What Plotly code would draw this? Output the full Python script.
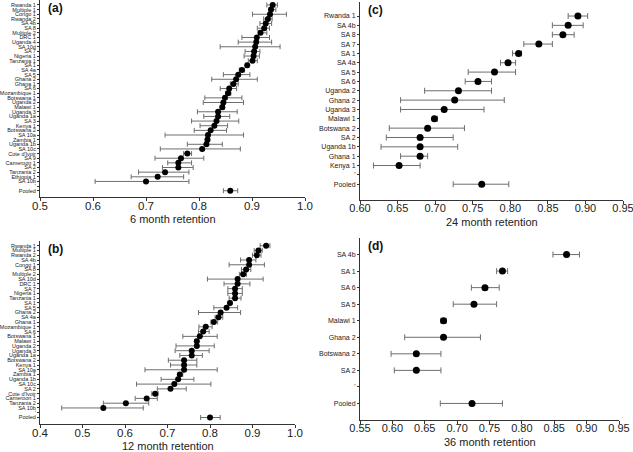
import plotly.graph_objects as go

# ---------------- data ----------------
labels_6 = ["Rwanda 1", "Multiple 1", "Congo 1", "Rwanda 2", "SA 4b", "SA 8", "Multiple 2", "DRC 1",
            "Uganda 4", "SA 10d", "SA 7", "Nigeria 1", "Tanzania 1", "SA 1", "SA 4a", "SA 5", "Ghana 2",
            "Ghana 1", "SA 6", "Mozambique 1", "Botswana 1", "Uganda 2", "Malawi 1", "Uganda 3",
            "Uganda 1a", "SA 3", "Kenya 1", "Botswana 2", "SA 10a", "Zambia 1", "Uganda 1b", "SA 10c",
            "Cote d'Ivoir", "SA 9", "Cameroon 1", "SA 2", "Tanzania 2", "Ethiopia 1", "SA 10b"]
est_6 = [0.939, 0.936, 0.934, 0.930, 0.926, 0.923, 0.916, 0.909, 0.908, 0.906, 0.904, 0.903, 0.901,
         0.891, 0.881, 0.874, 0.870, 0.865, 0.857, 0.855, 0.849, 0.846, 0.844, 0.836, 0.836, 0.833,
         0.829, 0.822, 0.817, 0.816, 0.814, 0.806, 0.778, 0.766, 0.761, 0.761, 0.736, 0.722, 0.700]
lo_6 = [0.928, 0.932, 0.901, 0.922, 0.915, 0.910, 0.912, 0.881, 0.874, 0.840, 0.887, 0.885, 0.893,
        0.888, 0.876, 0.846, 0.824, 0.859, 0.840, 0.850, 0.811, 0.808, 0.840, 0.797, 0.809, 0.786,
        0.802, 0.791, 0.736, 0.812, 0.778, 0.727, 0.771, 0.717, 0.741, 0.731, 0.686, 0.672, 0.604]
hi_6 = [0.948, 0.945, 0.965, 0.938, 0.937, 0.933, 0.928, 0.933, 0.937, 0.953, 0.915, 0.914, 0.910,
        0.894, 0.886, 0.896, 0.910, 0.874, 0.871, 0.860, 0.881, 0.884, 0.848, 0.872, 0.858, 0.875,
        0.854, 0.852, 0.884, 0.820, 0.844, 0.878, 0.786, 0.809, 0.786, 0.789, 0.781, 0.771, 0.781]
pooled_6 = [0.859, 0.846, 0.873]

labels_12 = ["Rwanda 1", "Multiple 1", "Rwanda 2", "SA 4b", "Congo 1", "SA 8", "Multiple 2", "SA 10d",
             "DRC 1", "SA 7", "Nigeria 1", "Tanzania 1", "SA 1", "SA 5", "Ghana 2", "SA 4a", "Ghana 1",
             "Mozambique 1", "SA 6", "Botswana 1", "Malawi 1", "Uganda 2", "Uganda 3", "Uganda 1a",
             "Botswana 2", "Kenya 1", "SA 10a", "Zambia 1", "Uganda 1b", "SA 10c", "SA 2",
             "Cote d'Ivoir", "Cameroon 1", "Tanzania 2", "SA 10b"]
est_12 = [0.932, 0.914, 0.910, 0.892, 0.892, 0.885, 0.878, 0.865, 0.865, 0.859, 0.859, 0.859, 0.847,
          0.839, 0.825, 0.820, 0.809, 0.790, 0.784, 0.776, 0.769, 0.769, 0.757, 0.757, 0.739, 0.739,
          0.739, 0.729, 0.725, 0.716, 0.707, 0.671, 0.651, 0.602, 0.549]
lo_12 = [0.918, 0.904, 0.900, 0.872, 0.845, 0.874, 0.869, 0.794, 0.833, 0.842, 0.842, 0.845, 0.843,
         0.809, 0.773, 0.812, 0.802, 0.774, 0.773, 0.736, 0.765, 0.720, 0.718, 0.729, 0.702, 0.707,
         0.647, 0.725, 0.685, 0.627, 0.676, 0.663, 0.624, 0.549, 0.451]
hi_12 = [0.941, 0.923, 0.920, 0.908, 0.928, 0.896, 0.886, 0.925, 0.894, 0.876, 0.876, 0.873, 0.851,
         0.865, 0.872, 0.830, 0.818, 0.805, 0.798, 0.817, 0.773, 0.810, 0.798, 0.782, 0.769, 0.769,
         0.817, 0.736, 0.762, 0.802, 0.744, 0.678, 0.676, 0.656, 0.643]
pooled_12 = [0.800, 0.778, 0.824]

labels_24 = ["Rwanda 1", "SA 4b", "SA 8", "SA 7", "SA 1", "SA 4a", "SA 5", "SA 6", "Uganda 2",
             "Ghana 2", "Uganda 3", "Malawi 1", "Botswana 2", "SA 2", "Uganda 1b", "Ghana 1", "Kenya 1"]
est_24 = [0.890, 0.877, 0.870, 0.838, 0.811, 0.797, 0.779, 0.757, 0.731, 0.726, 0.712, 0.699,
          0.690, 0.680, 0.680, 0.680, 0.652]
lo_24 = [0.877, 0.856, 0.856, 0.818, 0.803, 0.787, 0.744, 0.740, 0.686, 0.654, 0.654, 0.697,
         0.639, 0.635, 0.628, 0.654, 0.618]
hi_24 = [0.903, 0.897, 0.885, 0.856, 0.815, 0.807, 0.807, 0.775, 0.775, 0.792, 0.765, 0.703,
         0.739, 0.724, 0.730, 0.690, 0.680]
pooled_24 = [0.762, 0.724, 0.798]

labels_36 = ["SA 4b", "SA 1", "SA 6", "SA 5", "Malawi 1", "Ghana 2", "Botswana 2", "SA 2"]
est_36 = [0.869, 0.770, 0.743, 0.726, 0.679, 0.679, 0.637, 0.637]
lo_36 = [0.848, 0.761, 0.722, 0.694, 0.675, 0.619, 0.598, 0.603]
hi_36 = [0.889, 0.778, 0.765, 0.761, 0.683, 0.736, 0.675, 0.675]
pooled_36 = [0.723, 0.674, 0.770]

x_titles = ["6 month retention", "12 month retention", "24 month retention", "36 month retention"]
panel_tags = ["(a)", "(b)", "(c)", "(d)"]

# ---------------- layout geometry ----------------
W, H = 633, 452
FONT = "Liberation Sans, Arial, sans-serif"

panels = [
    dict(lab=labels_6, est=est_6, lo=lo_6, hi=hi_6, pooled=pooled_6,
         px=(40, 305), py=(0, 197), xr=[0.5, 1.0], dt=0.1, fmt=".1f",
         ypad=(1.07, 1.35), yfont=5.5, xfont=11.5, msize=6, cap=2.5),
    dict(lab=labels_12, est=est_12, lo=lo_12, hi=hi_12, pooled=pooled_12,
         px=(40, 295), py=(241, 424), xr=[0.4, 1.0], dt=0.1, fmt=".1f",
         ypad=(0.98, 1.36), yfont=5.5, xfont=11.5, msize=6, cap=2.5),
    dict(lab=labels_24, est=est_24, lo=lo_24, hi=hi_24, pooled=pooled_24,
         px=(360, 623), py=(2, 200), xr=[0.60, 0.95], dt=0.05, fmt=".2f",
         ypad=(1.5, 1.69), yfont=7, xfont=11, msize=7, cap=3),
    dict(lab=labels_36, est=est_36, lo=lo_36, hi=hi_36, pooled=pooled_36,
         px=(360, 619), py=(238, 420), xr=[0.55, 0.95], dt=0.05, fmt=".2f",
         ypad=(1.0, 1.0), yfont=7, xfont=11, msize=7, cap=3),
]

fig = go.Figure()
annotations = []
for i, p in enumerate(panels):
    n = len(p["lab"])
    ys = list(range(n)) + [n + 1]
    xs = list(p["est"]) + [p["pooled"][0]]
    lows = list(p["lo"]) + [p["pooled"][1]]
    highs = list(p["hi"]) + [p["pooled"][2]]
    err_plus = [h - x for h, x in zip(highs, xs)]
    err_minus = [x - l for x, l in zip(xs, lows)]
    ax = "" if i == 0 else str(i + 1)
    fig.add_trace(go.Scatter(
        x=xs, y=ys, mode="markers", xaxis="x" + ax, yaxis="y" + ax,
        marker=dict(color="black", size=p["msize"]),
        error_x=dict(type="data", symmetric=False, array=err_plus, arrayminus=err_minus,
                     color="#6e6e6e", thickness=1, width=p["cap"]),
        showlegend=False, hoverinfo="skip", cliponaxis=False))

    x0, x1 = p["px"]
    yt, yb = p["py"]
    xdom = [x0 / W, x1 / W]
    ydom = [(H - yb) / H, (H - yt) / H]
    ticks = []
    v = p["xr"][0]
    while v <= p["xr"][1] + 1e-9:
        ticks.append(round(v, 3))
        v += p["dt"]
    fig.update_layout(**{
        "xaxis" + ax: dict(domain=xdom, range=p["xr"], anchor="y" + ax, showline=True,
                           linecolor="#333", linewidth=1, ticks="outside", ticklen=3,
                           tickcolor="#333", tickvals=ticks, automargin=False,
                           ticktext=[format(t, p["fmt"]) for t in ticks],
                           ticklabelstandoff=-5, ticklabeloverflow="allow",
                           showgrid=False, zeroline=False,
                           tickfont=dict(size=p["xfont"], color="#222", family=FONT)),
        "yaxis" + ax: dict(domain=ydom, range=[n + 1 + p["ypad"][1], -p["ypad"][0]],
                           anchor="x" + ax, showline=True, linecolor="#333", linewidth=1,
                           ticks="outside", ticklen=2, tickcolor="#333", automargin=False,
                           tickvals=ys[:-1] + [n, n + 1],
                           ticktext=list(p["lab"]) + ["'", "Pooled"],
                           ticklabeloverflow="allow",
                           showgrid=False, zeroline=False,
                           tickfont=dict(size=p["yfont"], color="#222", family=FONT)),
    })
    annotations.append(dict(text=x_titles[i], x=(x0 + x1) / 2 / W, y=(H - yb - 22) / H,
                            xref="paper", yref="paper", showarrow=False, xanchor="center",
                            yanchor="middle", font=dict(size=11, color="#222", family=FONT)))
    annotations.append(dict(text="<b>" + panel_tags[i] + "</b>", x=(x0 + 6) / W,
                            y=(H - yt - 8) / H, xref="paper", yref="paper", showarrow=False,
                            xanchor="left", yanchor="middle",
                            font=dict(size=12, color="#111", family=FONT)))

fig.update_layout(template="none", width=W, height=H, margin=dict(l=0, r=0, t=0, b=0),
                  paper_bgcolor="white", plot_bgcolor="white",
                  annotations=annotations, font=dict(family=FONT))
fig.write_html("out.html", config={"displayModeBar": False},
               post_script="document.body.style.margin='0';document.body.style.padding='0';")
